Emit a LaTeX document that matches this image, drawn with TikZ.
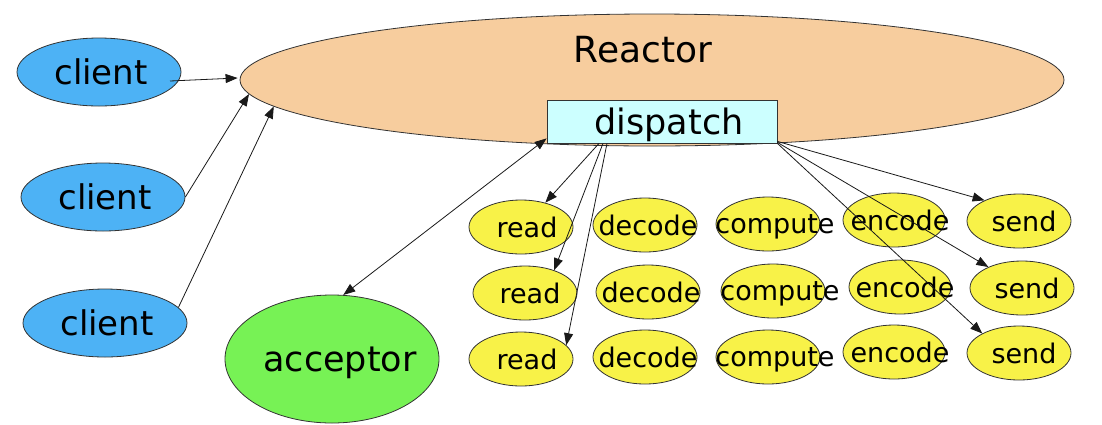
\documentclass[tikz,border=0pt]{standalone}
\usepackage{fontspec}
\setmainfont{DejaVu Sans}
\usetikzlibrary{shapes.geometric,arrows.meta}
\definecolor{clientblue}{RGB}{77,178,245}
\definecolor{reactorpeach}{RGB}{247,205,158}
\definecolor{dispcyan}{RGB}{204,255,255}
\definecolor{accgreen}{RGB}{119,242,85}
\definecolor{workyellow}{RGB}{248,242,72}
\newcommand\cz[2]{\makebox[0pt]{\hspace*{#1}#2}}
\begin{document}
\begin{tikzpicture}[x=1pt,y=-1pt,
  base/.style={draw=black!80, line width=0.8pt, inner sep=0pt, text depth=0pt},
  ell/.style={base, ellipse},
  clientnode/.style={ell, fill=clientblue, minimum width=164pt, minimum height=68pt, font=\fontsize{34}{40}\selectfont},
  worker/.style={ell, fill=workyellow, minimum width=104pt, minimum height=54pt, font=\fontsize{27}{32}\selectfont},
  arr/.style={draw=black!90, line width=0.8pt, -{Triangle[length=12pt,width=9pt]}},
  darr/.style={arr, {Triangle[length=12pt,width=9pt]}-{Triangle[length=12pt,width=9pt]}}
]
\useasboundingbox (0,0) rectangle (1102,424);

% Reactor
\node[ell, fill=reactorpeach, minimum width=824pt, minimum height=132pt] (R) at (652,80) {};
\node[inner sep=0pt, font=\fontsize{36}{42}\selectfont] (Rl) at (643,50) {Reactor};
\node[base, rectangle, fill=dispcyan, minimum width=230pt, minimum height=43pt, font=\fontsize{35}{40}\selectfont] (D) at (662,121.5) {\cz{14pt}{dispatch}};

% clients
\node[clientnode] (c1) at (99,72) {\cz{4pt}{client}};
\node[clientnode] (c2) at (103,197) {\cz{4pt}{client}};
\node[clientnode] (c3) at (105,323) {\cz{4pt}{client}};

% acceptor
\node[ell, fill=accgreen, minimum width=214pt, minimum height=128pt, font=\fontsize{35}{40}\selectfont] (A) at (332,359) {\cz{16pt}{acceptor}};

% workers
\node[worker] (r1) at (521,227) {\cz{12pt}{read}};
\node[worker] (r2) at (525,293) {\cz{10pt}{read}};
\node[worker] (r3) at (521,359) {\cz{12pt}{read}};
\node[worker] (d1) at (645,225) {\cz{6pt}{decode}};
\node[worker] (d2) at (648,292) {\cz{6pt}{decode}};
\node[worker] (d3) at (645,357) {\cz{6pt}{decode}};
\node[worker] (p1) at (768,224) {\cz{14pt}{compute}};
\node[worker] (p2) at (773,291) {\cz{14pt}{compute}};
\node[worker] (p3) at (768,357) {\cz{14pt}{compute}};
\node[worker, minimum width=102pt] (e1) at (894,220) {\cz{12pt}{encode}};
\node[worker, minimum width=102pt] (e2) at (900,287) {\cz{10pt}{encode}};
\node[worker, minimum width=102pt] (e3) at (894,352) {\cz{12pt}{encode}};
\node[worker] (s1) at (1019,221) {\cz{10pt}{send}};
\node[worker] (s2) at (1022,288) {\cz{10pt}{send}};
\node[worker] (s3) at (1019,353) {\cz{10pt}{send}};

% connectors
\draw[arr] ([xshift=71pt,yshift=-9pt]c1.center) -- ([xshift=-2pt,yshift=2pt]R.west);
\draw[arr] (c2.east) -- (R.182.6);
\draw[arr] (c3.12) -- (R.184.2);
\draw[darr] (A.80) -- ([yshift=5pt]D.south west);
\draw[arr] ([xshift=-63pt]D.south) -- (r1.45);
\draw[arr] ([xshift=-59pt]D.south) -- (r2.38);
\draw[arr] ([xshift=-55pt]D.south) -- (r3.17);
\draw[arr] ([yshift=2pt]D.south east) -- (s1.149);
\draw[arr] ([yshift=1pt]D.south east) -- (s2.148);
\draw[arr] (D.south east) -- (s3.152);
\end{tikzpicture}
\end{document}
